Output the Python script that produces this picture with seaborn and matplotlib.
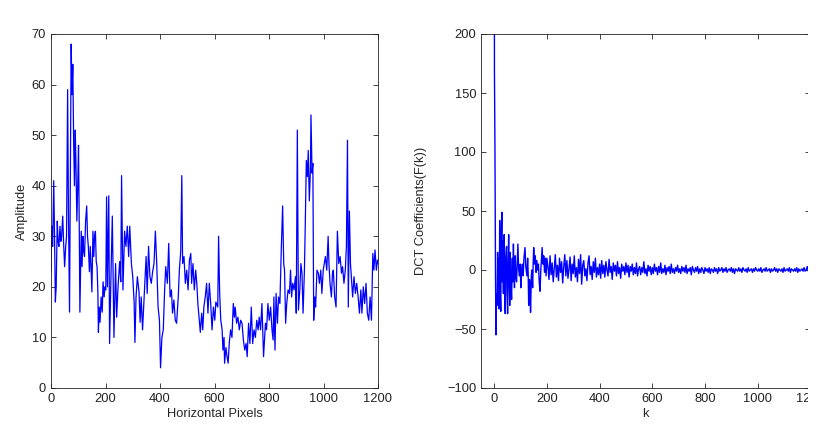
import numpy as np
import pandas as pd
import matplotlib
matplotlib.use("Agg")
import matplotlib.pyplot as plt
import seaborn as sns
from matplotlib.patches import Rectangle

# Left panel: pixel intensity along one row (vertices)
pixel_pos = [
    0, 3, 6, 10, 13, 16, 19, 23, 26, 29, 33, 36, 39, 43, 46, 50, 54, 57, 61, 64,
    68, 71, 74, 77, 80, 83, 86, 89, 91, 95, 98, 101, 104, 106, 109, 111, 114, 117, 120, 123,
    127, 131, 134, 137, 141, 144, 147, 150, 154, 157, 160, 163, 166, 169, 172, 174, 177, 180, 184, 188,
    191, 195, 198, 201, 204, 207, 212, 215, 221, 225, 231, 237, 241, 246, 252, 256, 259, 264, 270, 275,
    280, 285, 289, 295, 300, 305, 308, 312, 317, 323, 327, 331, 336, 341, 349, 353, 358, 363, 368, 373,
    378, 383, 388, 393, 398, 402, 407, 412, 417, 421, 427, 432, 437, 442, 446, 451, 456, 461, 467, 471,
    476, 480, 483, 488, 493, 498, 503, 508, 513, 516, 521, 526, 531, 535, 539, 544, 548, 553, 557, 561,
    566, 571, 576, 581, 586, 591, 596, 601, 605, 612, 615, 619, 623, 628, 631, 635, 637, 642, 646, 650,
    654, 659, 664, 669, 673, 676, 681, 686, 691, 696, 701, 706, 711, 716, 720, 725, 730, 735, 740, 745,
    750, 755, 760, 764, 769, 774, 780, 787, 791, 796, 801, 806, 811, 815, 818, 822, 826, 831, 835, 840,
    845, 850, 854, 857, 861, 865, 870, 875, 879, 883, 887, 892, 897, 900, 904, 908, 913, 917, 921, 925,
    930, 933, 937, 941, 944, 948, 952, 954, 958, 961, 964, 968, 971, 976, 981, 985, 990, 994, 999, 1003,
    1007, 1012, 1017, 1020, 1024, 1029, 1033, 1036, 1041, 1046, 1051, 1056, 1061, 1066, 1070, 1075, 1080, 1084, 1088, 1091,
    1095, 1099, 1102, 1107, 1112, 1117, 1122, 1127, 1132, 1137, 1141, 1146, 1151, 1156, 1161, 1166, 1171, 1176, 1181, 1185,
    1189, 1194, 1198, 1200,
]
amplitude = [
    23, 32, 28, 41, 30, 17, 20, 33, 29, 28, 32, 29, 30, 34, 29, 24, 28, 30, 59, 35,
    15, 40, 68, 58, 64, 49, 40, 51, 46, 33, 40, 48, 30, 15, 25, 31, 24, 30, 27, 26,
    33, 36, 30, 28, 23, 28, 24, 19, 31, 26, 30, 31, 25, 24, 19, 11, 16, 13, 18, 15,
    21, 18, 20, 19.4, 37.8, 20, 38, 8.8, 24.6, 34, 10, 24.6, 14, 20, 25, 21, 42, 19.4, 31, 28,
    32, 26, 32, 24.6, 22, 17, 9, 18, 22, 19, 13, 18, 11.5, 17, 26, 18.7, 28, 22, 20.7, 23,
    24.6, 31, 24.6, 16, 13.4, 4, 10, 11.5, 19.4, 24, 20.7, 28.6, 18, 19.4, 14.8, 17.4, 13.4, 12.8, 18, 23.3,
    27, 42, 24.6, 26, 20.7, 23.3, 19.4, 25.3, 26.6, 20.7, 24.6, 19.4, 23.3, 20.7, 16.7, 13.4, 11, 14.8, 11.5, 16,
    18, 20.7, 14.8, 20.7, 16.7, 11.5, 16, 13.4, 17, 16, 30, 18.7, 13.4, 11.5, 7.5, 10, 4.9, 8, 6.2, 4.9,
    8.8, 11.5, 10, 16.7, 14, 16, 12.8, 14, 11.5, 13.4, 12.8, 9.5, 7.5, 8.8, 6.2, 12.8, 8.8, 16, 8.8, 11.5,
    10, 13.4, 11.5, 14, 11.5, 16.7, 6.2, 12.8, 11.5, 16.7, 13.4, 16, 11.5, 9.5, 18, 7.5, 18.7, 12.8, 18, 16.7,
    27.3, 36, 24.6, 23.3, 12.8, 16.7, 19.4, 18.7, 23.3, 18, 20.7, 19.4, 22, 14.8, 51, 15.4, 19.4, 24.6, 22.7, 14.8,
    23.3, 32, 45, 41.8, 47, 37, 43.3, 54, 42.5, 44.4, 13.4, 18, 16, 23.3, 22.7, 20.7, 23.3, 18.7, 23.3, 24.6,
    26, 23.3, 30, 24.6, 20.7, 18, 22.7, 23.3, 18, 16, 31, 24.6, 26, 22.7, 24, 20.7, 23.3, 28, 49, 16,
    35, 24.6, 22, 18, 22, 18.7, 20.7, 18, 14.8, 19.4, 14.8, 20, 16.7, 20.7, 14.8, 13.4, 18, 13.4, 26.6, 23.3,
    27.3, 23.3, 25.3, 24.6,
]

# Right panel: DCT coefficients (low k read as vertices, the rest every 4th k)
coef_k_low = [
    0, 1, 3, 5, 7, 9, 11, 13, 15, 17, 19, 21, 23, 25, 27, 29, 31, 33, 35, 38,
    40, 42, 44, 47, 49, 51, 53, 55, 57, 59, 61, 63, 66, 69, 71, 73, 75, 77, 80, 82,
    85, 88, 90, 93, 96, 99, 101, 104, 107, 110, 113, 117, 120, 124, 127, 129, 131, 134, 136, 138,
    141, 143, 146, 148, 150, 153, 156, 159, 162, 165, 168, 171, 174, 177, 179, 182, 185, 188, 191, 194,
    197, 200,
]
coef_low = [
    640, 170, 101, -5, -55, -20, -30, 15, -30, 10, -33, 42, -20, -35, 20, 49, -10, 25, -20, 30,
    -15, -37, 10, 20, -20, -37, 5, 30, -10, -30, 15, -5, -25, 10, -10, 22, 0, -15, 12, -5,
    -10, 8, 22, 0, -5, 5, -15, 0, 5, -5, 10, 19, 3, -5, 10, -3, -30, -8, -15, -36,
    -5, 0, -15, 5, 19, 5, 12, -2, 8, 0, 5, -10, -18, 0, 8, 19, 5, 12, -2, 10,
    -5, 10,
]
coef_high = [
    3, -8, 12, -4, 6, -10, 2, 13, -6, 4, -9, 10, -2, 7, -11, 3, 13, -5, 8, -7, 1, 11, -9, 5, -3,
    12, -6, 2, -10, 9, -3, 13, -12, 4, 8, -5, 1, -9, 6, 12, -4, 3, -8, 7, -2, 10, -6, 2, -4, 5,
    -7, 8, -3, 4, -6, 7, 0, -5, 9, -2, 3, -8, 6, -1, 4, -5, 7, -3, 2, -7, 5, -1, 3, -4, 6,
    -2, 4, -6, 3, -1, 5, -4, 2, -3, 6, -5, 1, 3, -4, 2, -2, 7, -3, 1, -5, 4, -1, 3, -4, 2,
    -3, 5, -1, 2, -4, 3, -2, 6, -3, 1, -2, 4, -4, 2, -1, 3, -3, 5, -2, 1, -3, 2, -1, 4, -2,
    1, -3, 3, -1, 2, -2, 4, -3, 1, -1, 2, -4, 3, 0, -2, 2, -1, 3, -3, 1, -2, 2, 0, -3, 2,
    -1, 1, -2, 2, -3, 1, 0, -2, 2, -1, 1, -3, 2, -1, 0, 2, -2, 1, -1, 2, -2, 0, 1, -1, 2,
    -2, 1, -3, 1, 0, -1, 2, -1, 1, -2, 2, 0, -1, 1, -2, 2, -1, 0, 1, -2, 1, -1, 2, 0, -1,
    1, -1, 2, -2, 0, 1, -1, 2, -1, 0, 1, -2, 1, -1, 0, 2, -1, 1, -2, 1, 0, -1, 1, -2, 2,
    -1, 0, 1, -1, 2, -2, 1, 0, -1, 1, -1, 2, -2, 1, -1, 0, 1, -1, 2, -1, 0, 3, -1, 1,
]
coef_k = coef_k_low + list(range(204, 204 + 4 * len(coef_high), 4))
coef = coef_low + coef_high

sns.set_style("ticks")
plt.rcParams['font.family'] = ['Liberation Sans', 'DejaVu Sans']
plt.rcParams['font.size'] = 9.3
plt.rcParams['axes.linewidth'] = 0.6
plt.rcParams['xtick.direction'] = 'in'
plt.rcParams['ytick.direction'] = 'in'

W, H = 826, 432
fig = plt.figure(figsize=(W / 100, H / 100), dpi=100)
ax1 = fig.add_axes([51 / W, 44 / H, 327 / W, 354 / H])
ax2 = fig.add_axes([481 / W, 44 / H, 329.4 / W, 354 / H])

signal = pd.DataFrame({"pos": pixel_pos, "amp": amplitude})
dct = pd.DataFrame({"k": coef_k, "F": coef})

sns.lineplot(data=signal, x="pos", y="amp", ax=ax1, color="#0000ff",
             linewidth=0.9, estimator=None, sort=False)
sns.lineplot(data=dct, x="k", y="F", ax=ax2, color="#0000ff",
             linewidth=1.0, estimator=None, sort=False)

ax1.set_xlim(0, 1200)
ax1.set_ylim(0, 70)
ax1.set_xticks(range(0, 1201, 200))
ax1.set_yticks(range(0, 71, 10))
ax1.set_xlabel("Horizontal Pixels", labelpad=2)
ax1.set_ylabel("Amplitude", labelpad=3)

ax2.set_xlim(-50, 1200)
ax2.set_ylim(-100, 200)
ax2.set_xticks(range(0, 1201, 200))
ax2.set_yticks(range(-100, 201, 50))
ax2.set_xlabel("k", labelpad=2)
ax2.set_ylabel("DCT Coefficients(F(k))", labelpad=14)

for ax in (ax1, ax2):
    for s in ax.spines.values():
        s.set_visible(True)
        s.set_color("#222222")
    ax.tick_params(which="both", top=True, right=True, length=3.5, width=0.6,
                   colors="#222222", labelsize=9.3, pad=3.5)

# the source image is cut off at the right edge
fig.add_artist(Rectangle((808 / W, 0), 1, 1, transform=fig.transFigure,
                         facecolor="white", edgecolor="none", zorder=10))

fig.savefig("out.png", dpi=100)
